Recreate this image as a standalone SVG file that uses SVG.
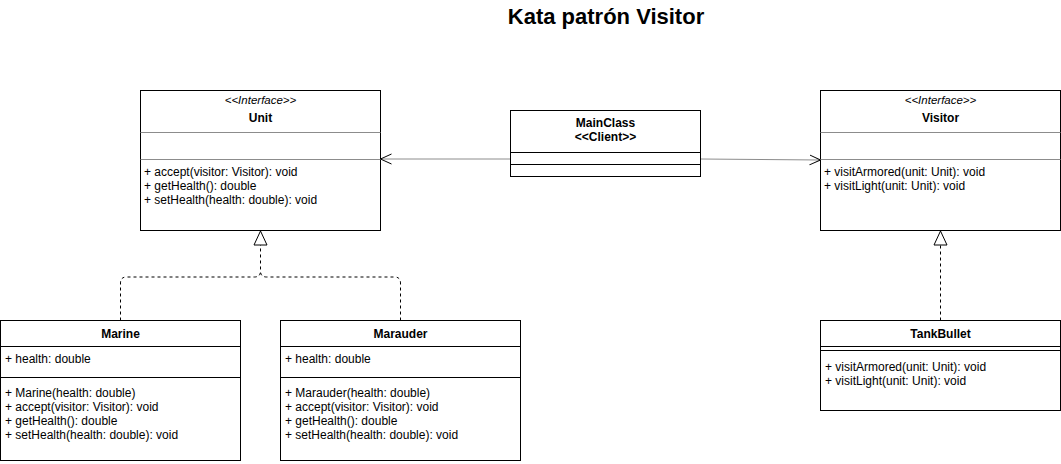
<svg xmlns="http://www.w3.org/2000/svg" width="1061" height="464" viewBox="0 0 1061 464">
<style>
text{font-family:"Liberation Sans",Arial,sans-serif;fill:#000}
.box{fill:#fff;stroke:#000;stroke-width:1}
.div{stroke:#8c8c8c;stroke-width:1;fill:none}
.divb{stroke:#000;stroke-width:1;fill:none}
.m{font-size:12px}
.n{font-size:12px;font-weight:bold;text-anchor:middle}
.st{font-size:11.5px;font-style:italic;text-anchor:middle}
.t{font-size:22px;font-weight:bold;text-anchor:middle}
.assoc{stroke:#8c8c8c;stroke-width:1;fill:none}
.real{stroke:#000;stroke-width:1;fill:none;stroke-dasharray:3 3}
</style>
<defs>
<marker id="open" viewBox="0 0 12 12" refX="11" refY="6" markerWidth="12" markerHeight="12" markerUnits="userSpaceOnUse" orient="auto">
<path d="M0,1 L11,6 L0,11" fill="none" stroke="#000" stroke-width="1"/>
</marker>
<marker id="tri" viewBox="0 0 16 16" refX="15" refY="8" markerWidth="16" markerHeight="16" markerUnits="userSpaceOnUse" orient="auto">
<path d="M1,1.5 L15,8 L1,14.5 Z" fill="#fff" stroke="#000" stroke-width="1"/>
</marker>
</defs>
<text class="t" x="606" y="24">Kata patrón Visitor</text>
<g id="connectors">
<path class="assoc" d="M510.5,159 L380.5,159" marker-end="url(#open)"/>
<path class="assoc" d="M700.5,159 L820.5,160" marker-end="url(#open)"/>
<path class="real" d="M120.5,320.5 L120.5,283 Q120.5,277 126.5,277 L254.5,277 Q260.5,277 260.5,271 L260.5,244" />
<path class="real" d="M400.5,320.5 L400.5,283 Q400.5,277 394.5,277 L266.5,277 Q260.5,277 260.5,271" />
<path d="M260.5,277 L260.5,231" fill="none" stroke="none" marker-end="url(#tri)"/>
<path class="real" d="M940.5,320.5 L940.5,244"/>
<path d="M940.5,260 L940.5,231" fill="none" stroke="none" marker-end="url(#tri)"/>
</g>
<g id="Unit">
<rect class="box" x="140.5" y="90.5" width="240" height="140"/>
<line class="div" x1="140.5" y1="132.5" x2="380.5" y2="132.5"/>
<line class="div" x1="140.5" y1="159.5" x2="380.5" y2="159.5"/>
<text class="st" x="260.5" y="104">&lt;&lt;Interface&gt;&gt;</text>
<text class="n" x="260.5" y="122">Unit</text>
<text class="m" x="144" y="176">+ accept(visitor: Visitor): void</text>
<text class="m" x="144" y="190">+ getHealth(): double</text>
<text class="m" x="144" y="204">+ setHealth(health: double): void</text>
</g>
<g id="MainClass">
<rect class="box" x="510.5" y="110.5" width="190" height="66"/>
<line class="divb" x1="510.5" y1="152.5" x2="700.5" y2="152.5"/>
<line class="divb" x1="510.5" y1="164.5" x2="700.5" y2="164.5"/>
<text class="n" x="605.5" y="127">MainClass</text>
<text class="n" x="605.5" y="141">&lt;&lt;Client&gt;&gt;</text>
</g>
<g id="Visitor">
<rect class="box" x="820.5" y="90.5" width="240" height="140"/>
<line class="div" x1="820.5" y1="132.5" x2="1060.5" y2="132.5"/>
<line class="div" x1="820.5" y1="159.5" x2="1060.5" y2="159.5"/>
<text class="st" x="940.5" y="104">&lt;&lt;Interface&gt;&gt;</text>
<text class="n" x="940.5" y="122">Visitor</text>
<text class="m" x="824" y="176">+ visitArmored(unit: Unit): void</text>
<text class="m" x="824" y="190">+ visitLight(unit: Unit): void</text>
</g>
<g id="Marine">
<rect class="box" x="0.5" y="320.5" width="240" height="140"/>
<line class="divb" x1="0.5" y1="346.5" x2="240.5" y2="346.5"/>
<line class="divb" x1="0.5" y1="377.5" x2="240.5" y2="377.5"/>
<text class="n" x="120.5" y="338">Marine</text>
<text class="m" x="5" y="363">+ health: double</text>
<text class="m" x="5" y="397">+ Marine(health: double)</text>
<text class="m" x="5" y="411">+ accept(visitor: Visitor): void</text>
<text class="m" x="5" y="425">+ getHealth(): double</text>
<text class="m" x="5" y="439">+ setHealth(health: double): void</text>
</g>
<g id="Marauder">
<rect class="box" x="280.5" y="320.5" width="240" height="140"/>
<line class="divb" x1="280.5" y1="346.5" x2="520.5" y2="346.5"/>
<line class="divb" x1="280.5" y1="377.5" x2="520.5" y2="377.5"/>
<text class="n" x="400.5" y="338">Marauder</text>
<text class="m" x="285" y="363">+ health: double</text>
<text class="m" x="285" y="397">+ Marauder(health: double)</text>
<text class="m" x="285" y="411">+ accept(visitor: Visitor): void</text>
<text class="m" x="285" y="425">+ getHealth(): double</text>
<text class="m" x="285" y="439">+ setHealth(health: double): void</text>
</g>
<g id="TankBullet">
<rect class="box" x="820.5" y="320.5" width="240" height="90"/>
<line class="divb" x1="820.5" y1="346.5" x2="1060.5" y2="346.5"/>
<line class="divb" x1="820.5" y1="350.5" x2="1060.5" y2="350.5"/>
<text class="n" x="940.5" y="338">TankBullet</text>
<text class="m" x="825" y="371">+ visitArmored(unit: Unit): void</text>
<text class="m" x="825" y="385">+ visitLight(unit: Unit): void</text>
</g>
</svg>
